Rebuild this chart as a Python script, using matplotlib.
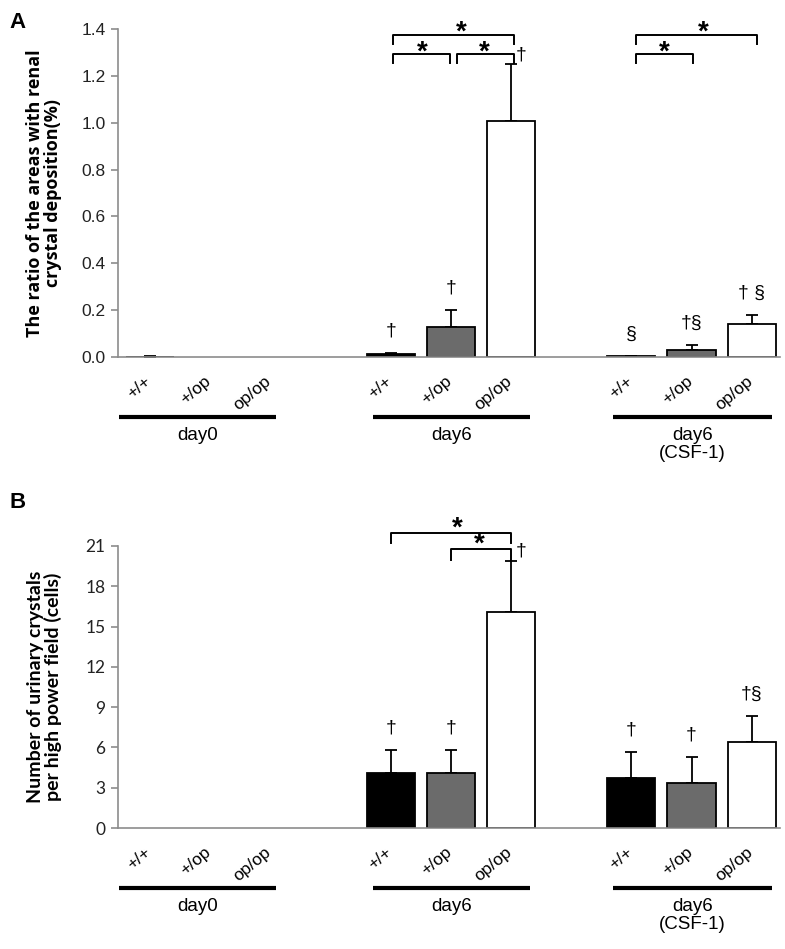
import numpy as np
import matplotlib
matplotlib.use("Agg")
import matplotlib.pyplot as plt
from matplotlib.transforms import offset_copy

plt.rcParams['font.family'] = ['Liberation Sans', 'DejaVu Sans']

# genotypes and groups
genotypes = ["+/+", "+/op", "op/op"]
groups = ["day0", "day6", "day6\n(CSF-1)"]
bar_colors = ["#000000", "#6b6b6b", "#ffffff"]

# panel A: renal crystal deposition (%)
a_mean = [0.002, 0.0, 0.0, 0.013, 0.129, 1.006, 0.005, 0.030, 0.141]
a_err = [0.002, 0.0, 0.0, 0.005, 0.071, 0.244, 0.0, 0.021, 0.038]
a_marks = ["", "", "", "\u2020", "\u2020", "", "\u00a7", "\u2020\u00a7", "\u2020 \u00a7"]

# panel B: urinary crystals per high power field
b_mean = [0.0, 0.0, 0.0, 4.1, 4.1, 16.1, 3.72, 3.37, 6.37]
b_err = [0.0, 0.0, 0.0, 1.7, 1.7, 3.75, 1.91, 1.89, 1.94]
b_marks = ["", "", "", "\u2020", "\u2020", "", "\u2020", "\u2020", "\u2020\u00a7"]

# bar positions: three per group, one empty slot between groups
pos = np.array([0, 1, 2, 4, 5, 6, 8, 9, 10], dtype=float)

fig = plt.figure(figsize=(7.85, 9.49), dpi=100)
axA = fig.add_axes([0.1503, 0.6238, 0.8433, 0.3456])
axB = fig.add_axes([0.1503, 0.1275, 0.8433, 0.2972])


def draw_panel(ax, mean, err, marks, ymax, ystep, fmt, tick_font):
    mean = np.array(mean)
    err = np.array(err)
    show = mean > 0
    cols = [bar_colors[i % 3] for i in range(len(pos))]
    ax.bar(pos[show], mean[show], width=0.8, color=np.array(cols)[show],
           edgecolor="black", linewidth=1.3, zorder=2)
    ax.errorbar(pos[show], mean[show], yerr=[np.zeros(show.sum()), err[show]],
                fmt="none", ecolor="black", elinewidth=1.3, capsize=4,
                capthick=1.3, zorder=1)
    ax.set_xlim(-0.53, 10.47)
    ax.set_ylim(0, ymax)
    ax.set_yticks(np.arange(0, ymax + ystep / 2, ystep))
    ax.set_yticklabels([fmt.format(v) for v in np.arange(0, ymax + ystep / 2, ystep)],
                       fontsize=12.5, family=tick_font, color="#222222")
    ax.set_xticks([])
    for s in ["top", "right"]:
        ax.spines[s].set_visible(False)
    for s in ["left", "bottom"]:
        ax.spines[s].set_color("#8c8c8c")
        ax.spines[s].set_linewidth(1.2)
    ax.tick_params(axis="y", direction="out", length=5, color="#8c8c8c", width=1.2, pad=4)

    # significance marks above bars
    ytop = mean + err
    for x, yt, m in zip(pos, ytop, marks):
        if m:
            ax.annotate(m, xy=(x, yt), xytext=(0, 22), textcoords="offset pixels",
                        ha="center", va="center", fontsize=14, annotation_clip=False)

    # genotype labels
    for i, x in enumerate(pos):
        ax.annotate(genotypes[i % 3], xy=(x, 0), xycoords=("data", "axes fraction"),
                    xytext=(-1, -22), textcoords="offset pixels", rotation=40,
                    ha="right", va="center", rotation_mode="anchor", fontsize=12.5)

    # group underlines and names
    line_tr = offset_copy(ax.get_xaxis_transform(), fig=fig, y=-60, units="dots")
    spans = [(-0.52, 2.1), (-0.3, 2.32), (-0.3, 2.33)]
    for g, (x0, x1) in enumerate(spans):
        base = pos[3 * g]
        ax.plot([base + x0, base + x1], [0, 0], color="black", lw=3,
                transform=line_tr, clip_on=False, solid_capstyle="butt")
        ax.annotate(groups[g], xy=(base + (x0 + x1) / 2, 0),
                    xycoords=("data", "axes fraction"), xytext=(0, -70),
                    textcoords="offset pixels", ha="center", va="top",
                    fontsize=13.5, linespacing=1.1)


def bracket(ax, x0, x1, y, leg, star_x, star_y):
    ax.plot([x0, x0, x1, x1], [y - leg, y, y, y - leg], color="black", lw=1.4,
            clip_on=False)
    ax.text(star_x, star_y, "*", ha="center", va="center", fontsize=20,
            fontweight="bold", clip_on=False)


draw_panel(axA, a_mean, a_err, a_marks, 1.4, 0.2, "{:.1f}", "Liberation Sans")
draw_panel(axB, b_mean, b_err, b_marks, 21, 3, "{:.0f}", "Lato")

# op/op day6 dagger next to cap
axA.text(6.17, 1.29, "\u2020", ha="center", va="center", fontsize=14, clip_on=False)
axB.text(6.17, 20.6, "\u2020", ha="center", va="center", fontsize=14, clip_on=False)

# panel A brackets
bracket(axA, 4.04, 6.05, 1.376, 0.038, 5.18, 1.385)
bracket(axA, 4.04, 4.99, 1.292, 0.038, 4.52, 1.30)
bracket(axA, 5.1, 6.05, 1.292, 0.038, 5.56, 1.30)
bracket(axA, 8.07, 10.08, 1.376, 0.038, 9.19, 1.385)
bracket(axA, 8.07, 9.02, 1.292, 0.038, 8.55, 1.30)

# panel B brackets
bracket(axB, 4.0, 6.0, 21.95, 0.75, 5.1, 22.3)
bracket(axB, 5.0, 6.0, 20.74, 0.75, 5.48, 21.1)

axA.set_ylabel("The ratio of the areas with renal\ncrystal deposition(%)",
               fontsize=13, fontweight="bold", family="Open Sans", linespacing=1.0)
axA.yaxis.set_label_coords(-0.085, 0.5)
axB.set_ylabel("Number of urinary crystals\nper high power field (cells)",
               fontsize=14, fontweight="bold", family="Lato", linespacing=1.0)
axB.yaxis.set_label_coords(-0.085, 0.5)

fig.text(0.012, 0.987, "A", fontsize=16, fontweight="bold", va="top")
fig.text(0.012, 0.482, "B", fontsize=16, fontweight="bold", va="top")

fig.savefig("out.png", dpi=100)
